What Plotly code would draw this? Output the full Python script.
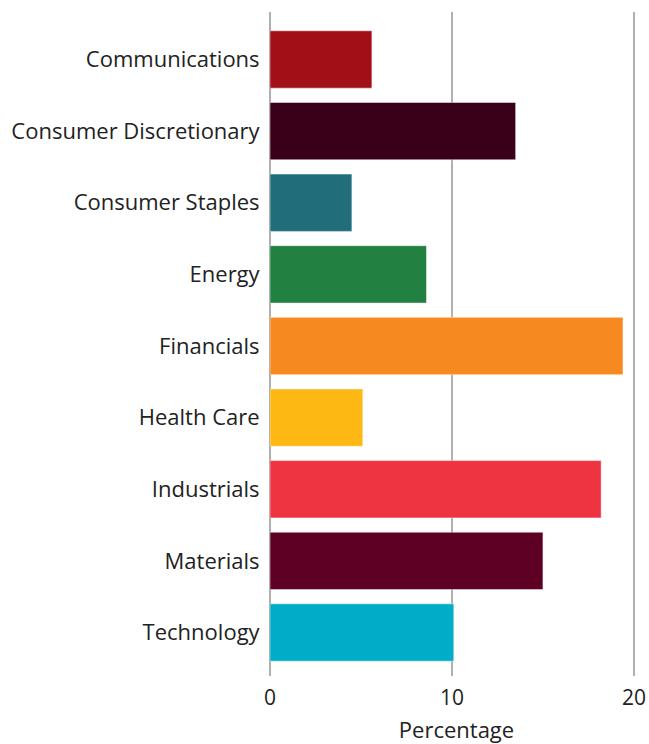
import plotly.graph_objects as go

sectors = ["Communications", "Consumer Discretionary", "Consumer Staples", "Energy",
           "Financials", "Health Care", "Industrials", "Materials", "Technology"]
percentages = [5.6, 13.5, 4.5, 8.6, 19.4, 5.1, 18.2, 15.0, 10.1]
colors = ["#A20F17", "#3A0019", "#226D7A", "#228040", "#F68A20",
          "#FDB813", "#EE3440", "#5D0023", "#00ACC7"]
x_ticks = [0, 10, 20]

fig = go.Figure(go.Bar(
    x=percentages,
    y=sectors,
    orientation="h",
    marker=dict(color=colors, line=dict(color="rgba(255,255,255,0.45)", width=1)),
    hoverinfo="x+y",
))

FONT = "Open Sans, Lato, sans-serif"
TXT = "#222222"

fig.update_layout(
    width=649, height=744,
    margin=dict(l=270, r=6, t=12, b=68),
    plot_bgcolor="white", paper_bgcolor="white",
    font=dict(family=FONT, size=22, color=TXT),
    bargap=0.2,
    showlegend=False,
    xaxis=dict(
        range=[0, 20.5],
        tickvals=x_ticks,
        automargin=False,
        showgrid=True, gridcolor="#b0b0b0", gridwidth=2,
        zeroline=True, zerolinecolor="#b0b0b0", zerolinewidth=2,
        showline=False, ticks="outside", ticklen=3, tickcolor="rgba(0,0,0,0)",
        tickfont=dict(family=FONT, size=21, color=TXT),
        title=dict(text="Percentage", font=dict(family=FONT, size=22, color=TXT), standoff=15),
        fixedrange=True,
    ),
    yaxis=dict(
        categoryorder="array", categoryarray=sectors,
        range=[8.607, -0.663],
        automargin=False,
        showgrid=False, zeroline=False, showline=False,
        ticks="outside", ticklen=5, tickcolor="rgba(0,0,0,0)",
        tickfont=dict(family=FONT, size=22, color=TXT),
        fixedrange=True,
    ),
)

fig.write_html(
    "out.html",
    config={"displayModeBar": False},
    post_script=(
        "document.documentElement.style.margin='0';"
        "document.documentElement.style.overflow='hidden';"
        "document.body.style.margin='0';document.body.style.overflow='hidden';"
        "var d=document.getElementById('{plot_id}');"
        "d.style.position='fixed';d.style.left='0px';d.style.top='0px';"
    ),
)
